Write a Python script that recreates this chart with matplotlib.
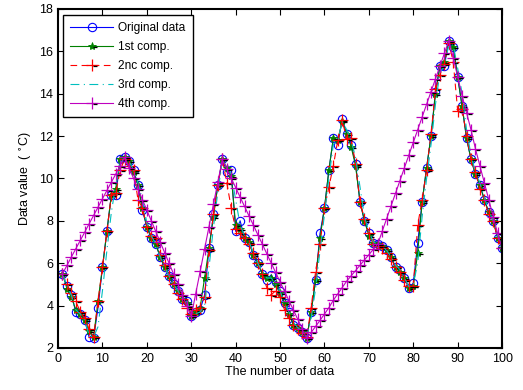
import numpy as np
import matplotlib.pyplot as plt
from matplotlib.path import Path
from matplotlib.legend_handler import HandlerTuple

plt.rcParams['font.family'] = ['Liberation Sans', 'DejaVu Sans']

# sample index
x = list(range(1, 101))

original = [5.5, 4.9, 4.5, 3.7, 3.6, 3.3, 2.5, 2.45, 3.9, 5.8,
            7.5, 9.2, 9.2, 10.9, 11.0, 10.8, 10.4, 9.7, 8.5, 7.7,
            7.2, 6.9, 6.3, 5.8, 5.4, 5.0, 4.7, 4.3, 4.2, 3.5,
            3.7, 3.8, 4.5, 6.7, 8.3, 9.7, 10.9, 10.3, 10.4, 7.5,
            8.0, 7.2, 7.0, 6.4, 6.0, 5.5, 5.2, 5.45, 5.1, 4.7,
            4.1, 3.7, 3.1, 2.95, 2.75, 2.45, 3.7, 5.2, 7.4, 8.6,
            10.4, 11.9, 11.6, 12.8, 12.1, 11.6, 10.7, 8.9, 8.0, 7.4,
            6.95, 6.9, 6.8, 6.6, 6.3, 5.8, 5.7, 5.3, 4.85, 5.05,
            6.95, 8.9, 10.5, 12.0, 14.1, 15.3, 15.3, 16.5, 16.2, 14.8,
            13.4, 11.9, 10.9, 10.2, 9.7, 9.0, 8.4, 8.0, 7.2, 6.7]

comp1 = [5.5, 4.8, 4.4, 3.8, 3.6, 3.3, 2.8, 2.5, 4.2, 5.8,
         7.5, 9.2, 9.5, 10.9, 11.0, 10.8, 10.3, 9.7, 8.6, 7.7,
         7.2, 6.9, 6.3, 5.8, 5.4, 5.0, 4.7, 4.3, 4.1, 3.5,
         3.7, 3.9, 5.3, 6.7, 8.2, 9.7, 10.9, 10.5, 10.1, 7.8,
         7.6, 7.2, 7.0, 6.4, 6.0, 5.5, 5.3, 5.3, 5.0, 4.6,
         4.1, 3.6, 3.1, 2.95, 2.75, 2.45, 3.7, 5.2, 7.2, 8.6,
         10.4, 11.9, 11.8, 12.7, 12.1, 11.5, 10.6, 8.9, 8.0, 7.3,
         6.95, 6.9, 6.8, 6.6, 6.3, 5.8, 5.6, 5.3, 4.85, 4.9,
         6.5, 8.9, 10.5, 12.0, 14.0, 15.3, 15.5, 16.5, 16.2, 14.8,
         13.4, 11.9, 10.9, 10.2, 9.7, 9.0, 8.4, 8.0, 7.2, 6.7]

comp2 = [5.5, 5.0, 4.6, 4.2, 3.7, 3.4, 2.9, 2.5, 4.2, 5.8,
         7.5, 9.2, 9.3, 10.4, 10.9, 10.6, 10.4, 9.0, 8.6, 7.7,
         7.3, 7.2, 6.4, 5.9, 5.4, 5.0, 4.6, 4.3, 3.9, 3.6,
         3.8, 3.9, 4.4, 6.6, 8.3, 9.7, 10.9, 9.8, 8.6, 7.6,
         7.4, 7.2, 6.9, 6.5, 6.0, 5.5, 4.85, 4.5, 4.7, 4.4,
         3.8, 3.4, 3.1, 2.9, 2.7, 2.5, 3.9, 5.6, 6.9, 8.6,
         9.6, 10.6, 11.8, 12.75, 11.85, 11.9, 10.7, 8.9, 8.1, 7.4,
         6.9, 6.8, 6.7, 6.5, 6.2, 5.8, 5.6, 5.2, 4.9, 4.9,
         7.8, 9.0, 10.4, 12.1, 14.2, 14.9, 15.4, 16.4, 15.5, 13.2,
         13.3, 12.0, 10.9, 10.3, 9.5, 9.0, 8.3, 8.0, 7.2, 6.7]

comp3 = [5.5, 4.9, 4.5, 3.8, 3.6, 3.3, 2.6, 2.5, 3.0, 4.7,
         6.6, 8.4, 9.7, 10.7, 11.0, 10.8, 10.4, 9.8, 9.0, 7.9,
         7.3, 6.9, 6.3, 5.8, 5.4, 5.0, 4.7, 4.3, 4.2, 3.6,
         3.6, 3.7, 4.0, 5.8, 7.7, 9.4, 10.8, 10.6, 10.2, 9.0,
         7.8, 7.3, 7.0, 6.5, 6.0, 5.6, 5.3, 5.3, 5.0, 4.7,
         4.1, 3.7, 3.2, 2.95, 2.8, 2.5, 3.4, 4.8, 6.6, 8.3,
         10.0, 11.6, 11.8, 12.7, 12.3, 11.8, 11.0, 9.6, 8.2, 7.5,
         7.0, 6.9, 6.8, 6.6, 6.3, 5.9, 5.7, 5.3, 4.9, 5.0,
         6.0, 8.2, 10.0, 11.6, 13.5, 15.0, 15.3, 16.3, 16.3, 15.2,
         14.0, 12.3, 11.1, 10.3, 9.8, 9.1, 8.5, 8.0, 7.3, 6.7]

comp4 = [5.5, 5.89, 6.29, 6.68, 7.07, 7.46, 7.86, 8.25, 8.64, 9.04,
         9.43, 9.82, 10.21, 10.61, 11.0, 10.5, 10.0, 9.5, 9.0, 8.5,
         8.0, 7.5, 7.0, 6.5, 6.0, 5.5, 5.0, 4.5, 4.0, 3.5,
         4.56, 5.61, 6.67, 7.73, 8.79, 9.84, 10.9, 10.46, 10.01, 9.57,
         9.12, 8.68, 8.23, 7.79, 7.34, 6.9, 6.45, 6.01, 5.56, 5.12,
         4.68, 4.23, 3.79, 3.34, 2.9, 2.45, 2.73, 3.01, 3.3, 3.6,
         3.9, 4.25, 4.55, 4.85, 5.15, 5.4, 5.65, 5.9, 6.15, 6.4,
         6.65, 6.9, 7.5, 8.1, 8.7, 9.3, 9.9, 10.5, 11.1, 11.7,
         12.3, 12.9, 13.5, 14.1, 14.7, 15.3, 15.9, 16.5, 15.7, 14.8,
         13.9, 13.1, 12.3, 11.4, 10.6, 9.8, 9.0, 8.2, 7.4, 6.7]

# small black dash that sits to the right of each marker
tick = Path([(0.15, -0.2), (1.0, -0.2)], [Path.MOVETO, Path.LINETO])

fig = plt.figure(figsize=(5.23, 3.90), dpi=100)
ax = fig.add_axes([0.111, 0.108, 0.849, 0.869])

l0, = ax.plot(x, original, color='#0000ff', lw=0.8, marker='o', ms=6,
              mfc='none', mew=0.8)
l1, = ax.plot(x, comp1, color='#008000', lw=0.8, marker='*', ms=6, mew=0.6)
t1, = ax.plot(x, comp1, ls='none', marker=tick, ms=6.5, mec='black', mew=0.9)
l2, = ax.plot(x, comp2, color='#ff0000', lw=0.8, ls=(0, (6, 4)), marker='+',
              ms=8, mew=0.9)
t2, = ax.plot(x, comp2, ls='none', marker=tick, ms=7, mec='black', mew=0.9)
l3, = ax.plot(x, comp3, color='#00bfbf', lw=0.8, ls=(0, (8, 4, 1, 4)))
l4, = ax.plot(x, comp4, color='#bf00bf', lw=0.8, marker='+', ms=8, mew=0.9)
t4, = ax.plot(x, comp4, ls='none', marker=tick, ms=7, mec='black', mew=0.9)

ax.set_xlim(0, 100)
ax.set_ylim(2, 18)
ax.set_xticks(range(0, 101, 10))
ax.set_yticks(range(2, 19, 2))
ax.tick_params(direction='in', top=True, right=True, length=4, width=0.8,
               labelsize=9)
for s in ax.spines.values():
    s.set_linewidth(1.5)

ax.set_xlabel('The number of data', fontsize=9, labelpad=1)
ax.set_ylabel('Data value  ( $^{\\circ}$C)', fontsize=9, labelpad=4)

leg = ax.legend([l0, (l1, t1), (l2, t2), l3, (l4, t4)],
                ['Original data', '1st comp.', '2nc comp.', '3rd comp.',
                 '4th comp.'],
                handler_map={tuple: HandlerTuple(ndivide=1)},
                loc='upper left', bbox_to_anchor=(0.011, 0.982),
                fontsize=8.6, handlelength=3.6, handletextpad=0.45,
                labelspacing=0.58, borderpad=0.6, fancybox=False,
                framealpha=1, borderaxespad=0)
leg.get_frame().set_edgecolor('black')
leg.get_frame().set_linewidth(1.0)

plt.savefig('out.png', dpi=100)
